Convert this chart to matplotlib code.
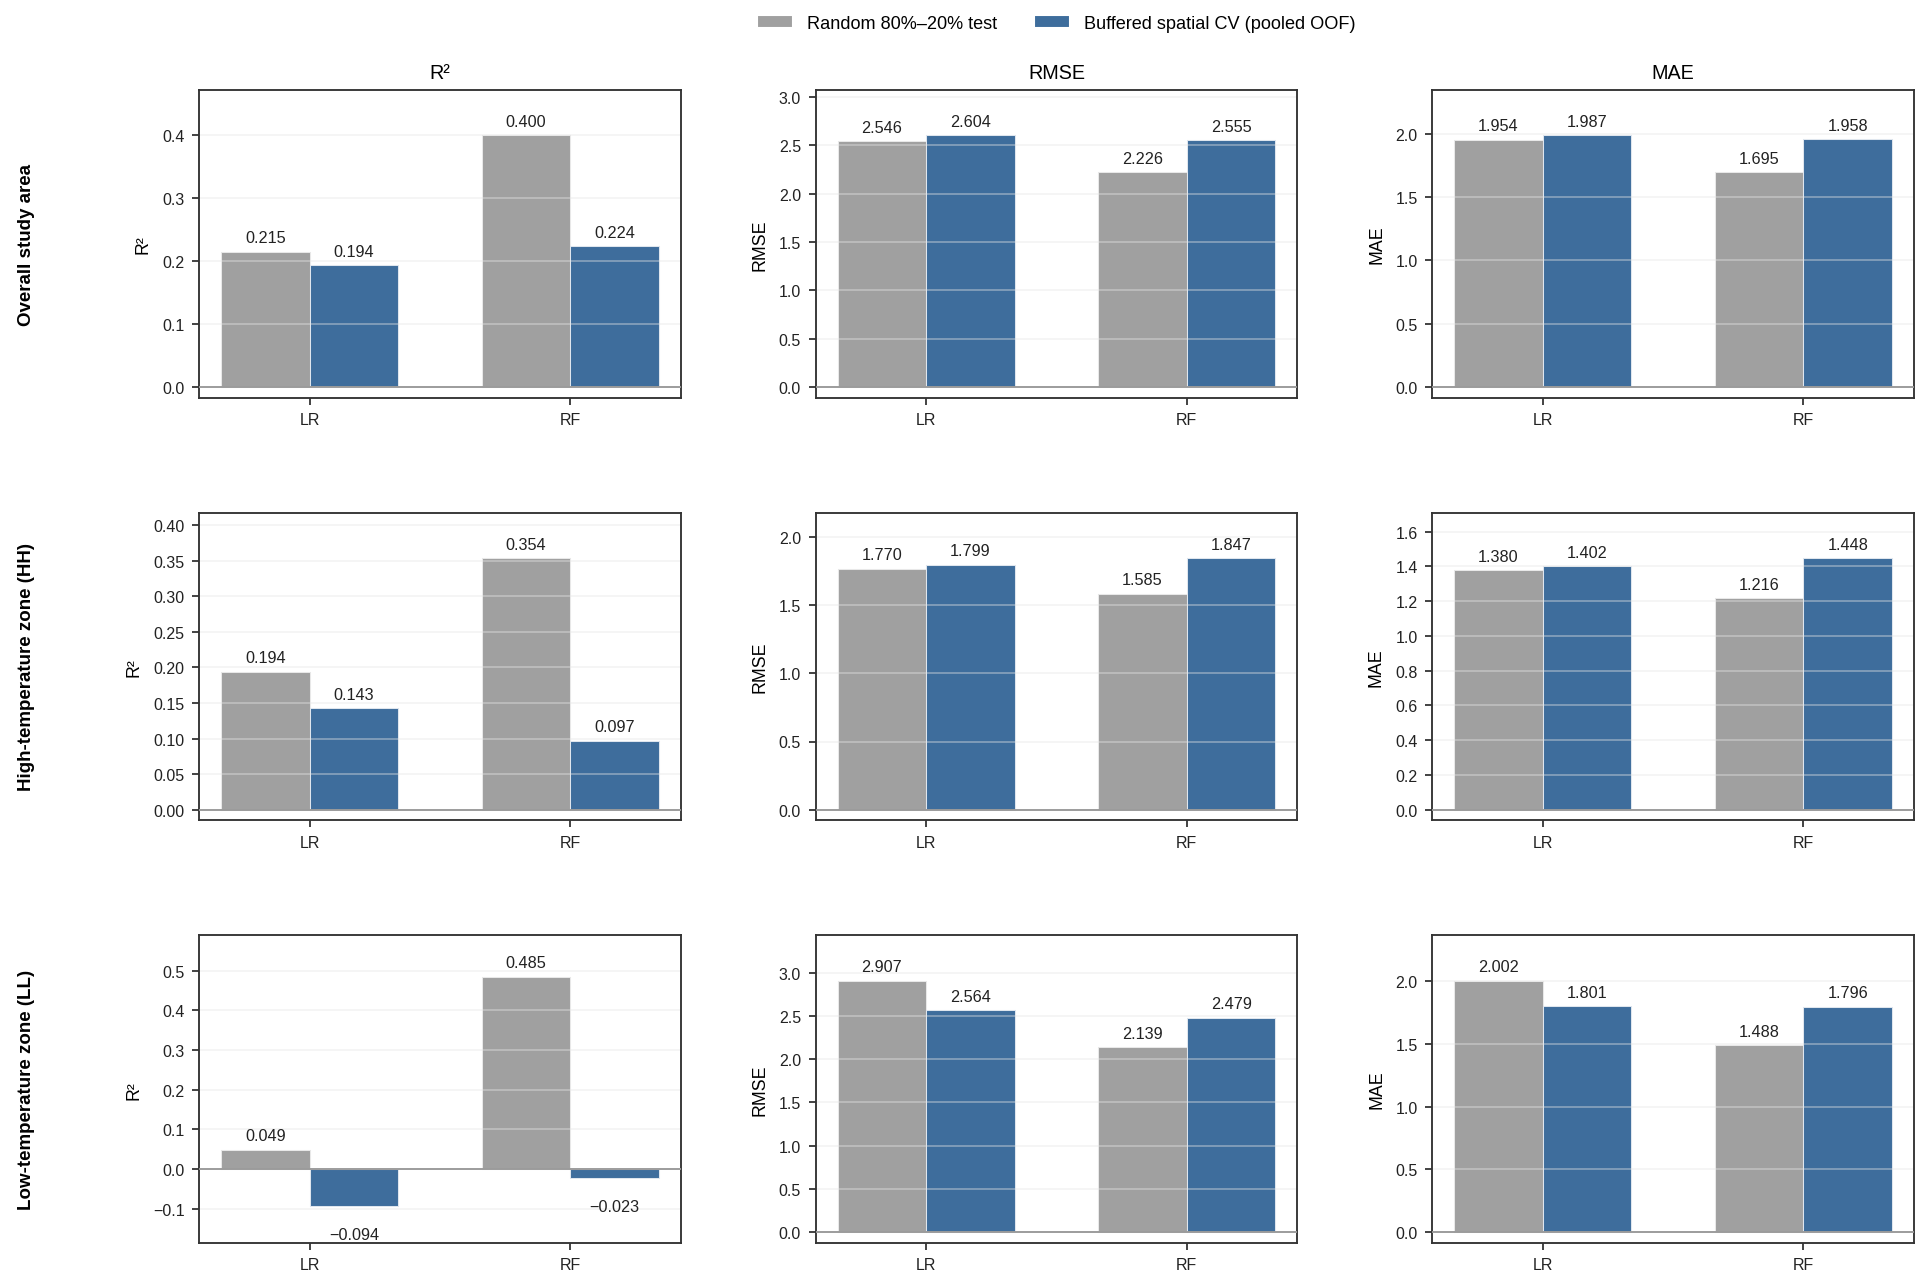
import numpy as np
import matplotlib
matplotlib.use("Agg")
import matplotlib.pyplot as plt
from matplotlib.patches import Patch

plt.rcParams['font.family'] = ['Liberation Sans', 'DejaVu Sans']

models = ['LR', 'RF']
zones = ['Overall study area', 'High-temperature zone (HH)', 'Low-temperature zone (LL)']
metrics = ['R\u00b2', 'RMSE', 'MAE']

# rows = zones, columns = models
random_r2 = [[0.215, 0.400], [0.194, 0.354], [0.049, 0.485]]
spatial_r2 = [[0.194, 0.224], [0.143, 0.097], [-0.094, -0.023]]
random_rmse = [[2.546, 2.226], [1.770, 1.585], [2.907, 2.139]]
spatial_rmse = [[2.604, 2.555], [1.799, 1.847], [2.564, 2.479]]
random_mae = [[1.954, 1.695], [1.380, 1.216], [2.002, 1.488]]
spatial_mae = [[1.987, 1.958], [1.402, 1.448], [1.801, 1.796]]

series_labels = ['Random 80%\u201320% test', 'Buffered spatial CV (pooled OOF)']
colors = ['#a0a0a0', '#3e6d9c']

random_vals = [random_r2, random_rmse, random_mae]
spatial_vals = [spatial_r2, spatial_rmse, spatial_mae]


def fmt(v):
    return ('%.3f' % v).replace('-', '\u2212')


fig, axes = plt.subplots(3, 3, figsize=(12.873, 8.573), dpi=150)
fig.subplots_adjust(left=0.1031, right=0.9912, top=0.9292, bottom=0.0327,
                    wspace=0.28, hspace=0.374)

x = np.arange(len(models))
w = 0.34

for r in range(3):
    for c in range(3):
        ax = axes[r, c]
        a = random_vals[c][r]
        b = spatial_vals[c][r]
        bars_a = ax.bar(x - w / 2, a, w, color=colors[0], edgecolor='#e8e8e8', linewidth=0.5)
        bars_b = ax.bar(x + w / 2, b, w, color=colors[1], edgecolor='#dfe6ee', linewidth=0.5)
        ax.axhline(0, color='#999999', lw=0.9, zorder=3)

        allv = list(a) + list(b)
        lo = min(0, min(allv))
        hi = max(allv)
        span = hi - lo
        top = hi + 0.18 * span
        if lo < 0:
            bottom = lo - 0.16 * span
        else:
            bottom = -0.036 * top
        ax.set_ylim(bottom, top)

        for bars in (bars_a, bars_b):
            for rect in bars:
                h = rect.get_height()
                cx = rect.get_x() + rect.get_width() / 2
                if h >= 0:
                    ax.annotate(fmt(h), (cx, h), xytext=(0, 3), textcoords='offset points',
                                ha='center', va='bottom', fontsize=7.8, color='#222222')
                else:
                    ax.annotate(fmt(h), (cx, h), xytext=(0, -10), textcoords='offset points',
                                ha='center', va='top', fontsize=7.8, color='#222222')

        ax.set_xticks(x)
        ax.set_xticklabels(models)
        ax.grid(axis='y', color='#e6e6e6', lw=0.8, alpha=0.45)
        ax.tick_params(axis='both', labelsize=7.7, length=3.5, width=0.8, colors='#222222')
        ax.set_ylabel(metrics[c], fontsize=8.5, labelpad=5)
        for s in ax.spines.values():
            s.set_color('#333333')
            s.set_linewidth(0.9)
        if r == 0:
            ax.set_title(metrics[c], fontsize=9.5, pad=6)

    y0 = axes[r, 0].get_position()
    fig.text(0.0135, (y0.y0 + y0.y1) / 2, zones[r], rotation=90, ha='center', va='center',
             fontsize=9, fontweight='bold')

handles = [Patch(facecolor=colors[0], edgecolor='white'),
           Patch(facecolor=colors[1], edgecolor='white')]
fig.legend(handles, series_labels, loc='center', bbox_to_anchor=(0.547, 0.981), ncol=2,
           frameon=False, fontsize=8.7)

fig.savefig('out.png', dpi=150)
